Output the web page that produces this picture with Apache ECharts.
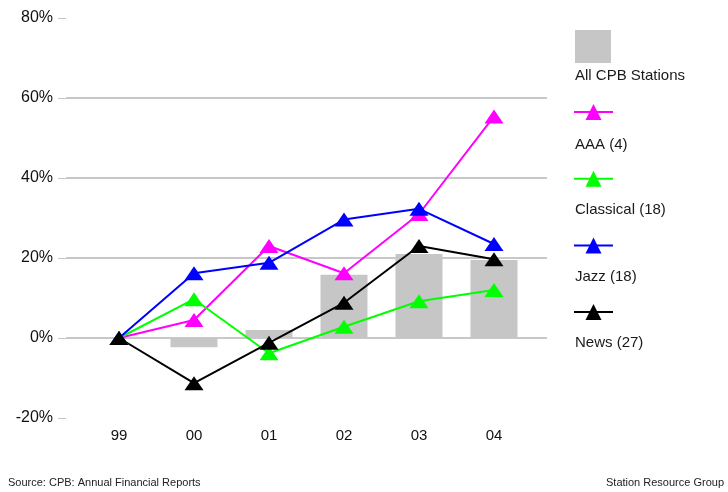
<!DOCTYPE html>
<html>
<head>
<meta charset="utf-8">
<script src="https://cdn.jsdelivr.net/npm/echarts@6/dist/echarts.min.js"></script>
<style>
  html, body { margin: 0; padding: 0; background: #fff; }
  #chart { width: 728px; height: 492px; }
</style>
</head>
<body>
<div id="chart"></div>
<script>
// Fiscal years (two-digit) shown along the x axis
const years = ['99', '00', '01', '02', '03', '04'];

// Cumulative change since FY99, percent
const allCpbStations = [0, -2.3, 2.0, 15.8, 21.0, 19.5];
const aaa       = [0, 4.5, 23.0, 16.2, 31.0, 55.4];
const classical = [0, 9.7, -3.8, 2.8, 9.2, 12.0];
const jazz      = [0, 16.2, 18.8, 29.6, 32.3, 23.5];
const news      = [0, -11.3, -1.2, 8.8, 23.0, 19.7];

const yTicks = [-20, 0, 20, 40, 60, 80];

const seriesNames = ['All CPB Stations', 'AAA (4)', 'Classical (18)', 'Jazz (18)', 'News (27)'];
const lineSeries = [
  { name: seriesNames[1], values: aaa,       color: '#ff00ff' },
  { name: seriesNames[2], values: classical, color: '#00ff00' },
  { name: seriesNames[3], values: jazz,      color: '#0000ff' },
  { name: seriesNames[4], values: news,      color: '#000000' }
];

const FONT = '"Liberation Sans", Arial, sans-serif';
const toPoints = vals => vals.map((v, i) => [i, v]);

const chart = echarts.init(document.getElementById('chart'), null, { renderer: 'canvas' });

// Legend captions sit beneath each legend swatch
const captionY = [74, 143, 208, 275, 341];
const captions = seriesNames.map((name, i) => ({
  type: 'text',
  left: 575,
  top: captionY[i] - 6,
  style: { text: name, font: '15px ' + FONT, fill: '#1a1a1a' }
}));

chart.setOption({
  animation: false,
  backgroundColor: '#ffffff',
  grid: { left: 66, top: 18, width: 481, height: 400, containLabel: false },
  xAxis: {
    type: 'value',
    min: -0.707,
    max: 5.707,
    axisLine: { show: false },
    axisTick: { show: false },
    splitLine: { show: false },
    axisLabel: {
      customValues: years.map((y, i) => i),
      formatter: v => years[Math.round(v)],
      margin: 10,
      color: '#111',
      fontSize: 15,
      fontFamily: FONT
    }
  },
  yAxis: {
    type: 'value',
    min: yTicks[0],
    max: yTicks[yTicks.length - 1],
    interval: 20,
    axisLine: { show: false, onZero: false },
    axisTick: { show: true, length: 8, lineStyle: { color: '#c8c8c8', width: 1 } },
    axisLabel: {
      formatter: '{value}%',
      margin: 13,
      color: '#111',
      fontSize: 16,
      fontFamily: FONT
    },
    splitLine: {
      show: true,
      showMinLine: false,
      showMaxLine: false,
      lineStyle: { color: '#c8c8c8', width: 2 }
    }
  },
  legend: [
    {
      data: [{ name: seriesNames[0], icon: 'rect' }],
      orient: 'vertical',
      left: 575,
      top: 30,
      padding: 0,
      itemWidth: 36,
      itemHeight: 33,
      formatter: () => '',
      selectedMode: false
    },
    {
      data: seriesNames.slice(1),
      orient: 'vertical',
      left: 573,
      top: 102,
      padding: 0,
      itemWidth: 39,
      itemHeight: 20,
      itemGap: 48.7,
      formatter: () => '',
      selectedMode: false
    }
  ],
  graphic: captions.concat([
    {
      type: 'text', left: 8, top: 477,
      style: { text: 'Source: CPB: Annual Financial Reports', font: '11px ' + FONT, fill: '#222' }
    },
    {
      type: 'text', right: 4, top: 477,
      style: { text: 'Station Resource Group', font: '11px ' + FONT, fill: '#222' }
    }
  ]),
  series: [
    {
      name: seriesNames[0],
      type: 'bar',
      data: toPoints(allCpbStations),
      barWidth: 47,
      itemStyle: { color: '#c6c6c6' },
      z: 1
    }
  ].concat(lineSeries.map(s => ({
    name: s.name,
    type: 'line',
    data: toPoints(s.values),
    symbol: 'triangle',
    symbolSize: [19, 14],
    showAllSymbol: true,
    lineStyle: { color: s.color, width: 2 },
    itemStyle: { color: s.color },
    z: 3
  })))
});
</script>
</body>
</html>
